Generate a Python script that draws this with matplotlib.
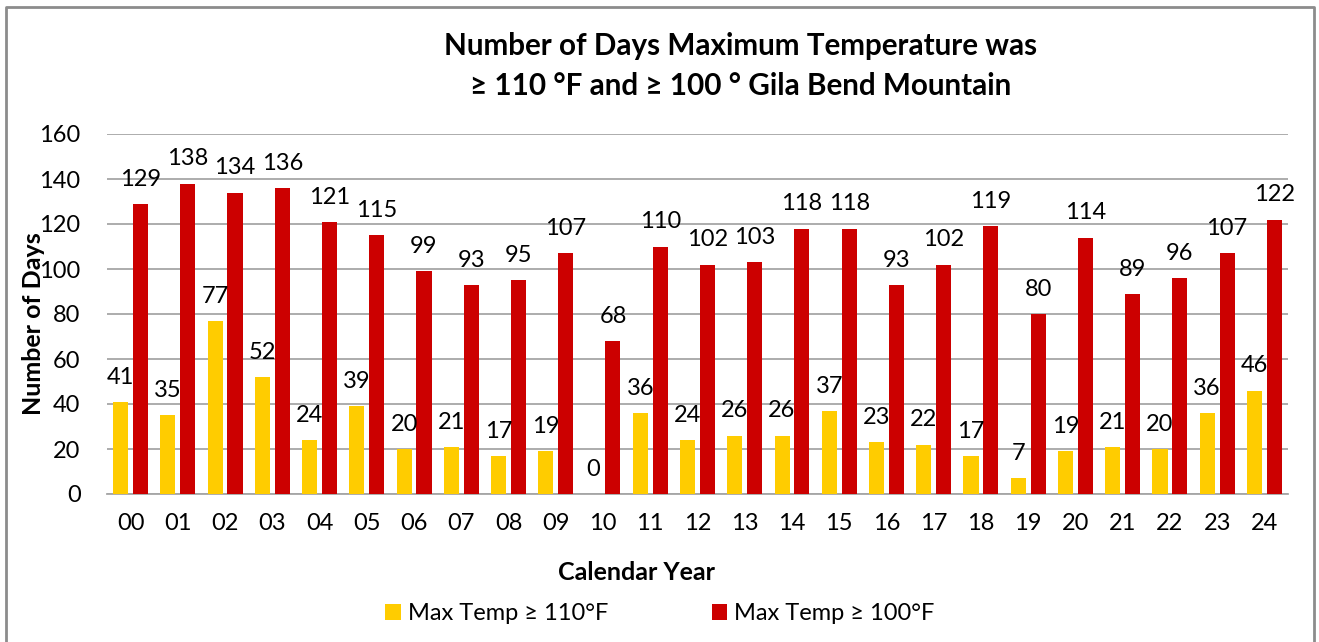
import matplotlib.pyplot as plt
import numpy as np
from matplotlib.lines import Line2D

years = ['00', '01', '02', '03', '04', '05', '06', '07', '08', '09', '10', '11', '12',
         '13', '14', '15', '16', '17', '18', '19', '20', '21', '22', '23', '24']
days_110 = [41, 35, 77, 52, 24, 39, 20, 21, 17, 19, 0, 36, 24,
            26, 26, 37, 23, 22, 17, 7, 19, 21, 20, 36, 46]
days_100 = [129, 138, 134, 136, 121, 115, 99, 93, 95, 107, 68, 110, 102,
            103, 118, 118, 93, 102, 119, 80, 114, 89, 96, 107, 122]

plt.rcParams['font.family'] = ['Lato', 'DejaVu Sans']

W, H = 1319, 642
fig = plt.figure(figsize=(W / 100, H / 100), dpi=100)
ax = fig.add_axes([107 / W, 1 - 494 / H, (1288 - 107) / W, (494 - 134) / H])

x = np.arange(len(years))
bw = 0.32
off = 0.21
yellow = '#ffcc00'
red = '#cc0000'
b1 = ax.bar(x - off, days_110, bw, color=yellow, label='Max Temp \u2265 110\u00b0F', zorder=3)
b2 = ax.bar(x + off, days_100, bw, color=red, label='Max Temp \u2265 100\u00b0F', zorder=3)

# value labels above the bars
for bars, vals in [(b1, days_110), (b2, days_100)]:
    for rect, v in zip(bars, vals):
        ax.annotate(str(v), (rect.get_x() + rect.get_width() / 2, v),
                    xytext=(0, 13), textcoords='offset points',
                    ha='center', va='baseline', fontsize=17, color='black', zorder=4)

ax.set_xlim(-0.5, len(years) - 0.5)
ax.set_ylim(0, 160)
ax.set_yticks(range(0, 161, 20))
ax.set_xticks(x)
ax.set_xticklabels(years)
ax.tick_params(axis='both', length=0, labelsize=17, colors='black')
ax.tick_params(axis='y', pad=19)
ax.tick_params(axis='x', pad=14)
ax.grid(axis='y', color='#a6a6a6', linewidth=1.3, zorder=0)
for s in ['top', 'right', 'left']:
    ax.spines[s].set_visible(False)
ax.spines['bottom'].set_color('#a6a6a6')
ax.spines['bottom'].set_linewidth(1.3)

fig.text(34 / W, 1 - 324 / H, 'Number of Days', rotation=90, ha='center', va='center',
         fontsize=18, fontweight='bold')
fig.text(636 / W, 1 - 573 / H, 'Calendar Year', ha='center', va='center',
         fontsize=18, fontweight='bold')
fig.text(741 / W, 1 - 46 / H, 'Number of Days Maximum Temperature was', ha='center', va='center',
         fontsize=21.3, fontweight='bold')
fig.text(741 / W, 1 - 86 / H, '\u2265 110 \u00b0F and \u2265 100 \u00b0 Gila Bend Mountain', ha='center',
         va='center', fontsize=21.3, fontweight='bold')

fig.legend(handles=[b1, b2], loc='center', bbox_to_anchor=(660 / W, 1 - 614 / H), ncol=2,
           frameon=False, fontsize=17, handlelength=0.64, handleheight=0.64,
           handletextpad=0.3, columnspacing=4.4)

# outer chart border (left, top, right)
bx0, bx1, by = 6 / W, 1314 / W, 1 - 7 / H
fig.add_artist(Line2D([bx0, bx0, bx1, bx1], [0, by, by, 0], transform=fig.transFigure,
                      color='#8c8c8c', linewidth=2))

fig.savefig('out.png', dpi=100)
